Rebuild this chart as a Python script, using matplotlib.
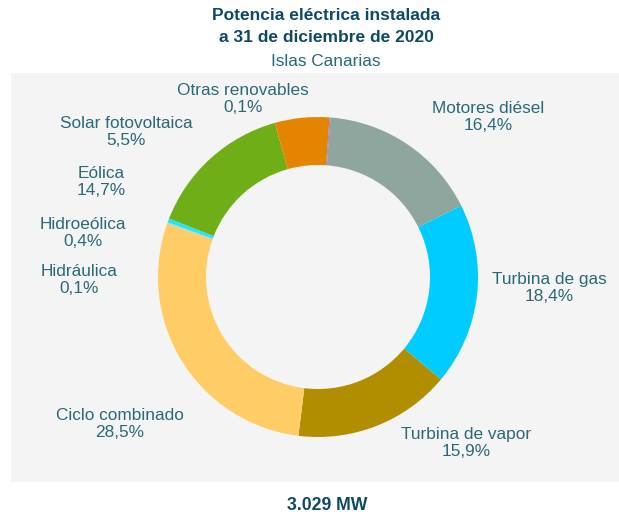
import matplotlib.pyplot as plt

plt.rcParams["font.family"] = ["Liberation Sans", "DejaVu Sans"]

# ── Data ──────────────────────────────────────────────────────────────
TECHNOLOGIES = [
    "Motores diésel", "Turbina de gas", "Turbina de vapor", "Ciclo combinado",
    "Hidráulica", "Hidroeólica", "Eólica", "Solar fotovoltaica", "Otras renovables",
]
SHARES = [16.4, 18.4, 15.9, 28.5, 0.1, 0.4, 14.7, 5.5, 0.1]
COLORS = [
    "#8fa69e", "#00ccff", "#b08e00", "#ffcc66",
    "#8fd9f0", "#1ee8ff", "#6fae17", "#e58400", "#b070c0",
]
TOTAL_LABEL = "3.029 MW"

# label centres in pixels (x, y from top)
LABEL_POS = {
    "Motores diésel": (488, 117),
    "Turbina de gas": (549, 288),
    "Turbina de vapor": (466, 443),
    "Ciclo combinado": (120, 424),
    "Hidráulica": (79, 280),
    "Hidroeólica": (83, 233),
    "Eólica": (101, 182),
    "Solar fotovoltaica": (126, 132),
    "Otras renovables": (243, 99),
}

W, H = 619, 517
TXT = "#2b6878"
TITLE = "#0e4a66"

fig = plt.figure(figsize=(W / 100, H / 100), dpi=100)

# grey panel behind the ring
bg = fig.add_axes([11 / W, 1 - 482 / H, (W - 11) / W, (482 - 73) / H])
bg.set_facecolor("#f4f4f4")
bg.set_xticks([])
bg.set_yticks([])
for s in bg.spines.values():
    s.set_visible(False)

# ring: centre (318, 277), outer radius 160 px
cx, cy, r = 318, 277, 160
ax = fig.add_axes([(cx - r) / W, 1 - (cy + r) / H, 2 * r / W, 2 * r / H])
ax.pie(SHARES, colors=COLORS, startangle=85.5, counterclock=False,
       radius=1.0, wedgeprops=dict(width=0.3, edgecolor="none"))
ax.set_xlim(-1, 1)
ax.set_ylim(-1, 1)
ax.set_aspect("equal")
ax.axis("off")

for name, share in zip(TECHNOLOGIES, SHARES):
    x, y = LABEL_POS[name]
    fig.text(x / W, 1 - y / H, f"{name}\n{share:.1f}%".replace(".", ","),
             ha="center", va="center", fontsize=12.4, color=TXT, linespacing=1.1)

fig.text(326 / W, 1 - 26.5 / H, "Potencia eléctrica instalada\na 31 de diciembre de 2020",
         ha="center", va="center", fontsize=12.5, fontweight="bold", color=TITLE,
         linespacing=1.5)
fig.text(326 / W, 1 - 61 / H, "Islas Canarias", ha="center", va="center",
         fontsize=12.4, color=TXT)
fig.text(327 / W, 1 - 505 / H, TOTAL_LABEL, ha="center", va="center",
         fontsize=12.7, fontweight="bold", color=TITLE)

fig.savefig("out.png", dpi=100)
